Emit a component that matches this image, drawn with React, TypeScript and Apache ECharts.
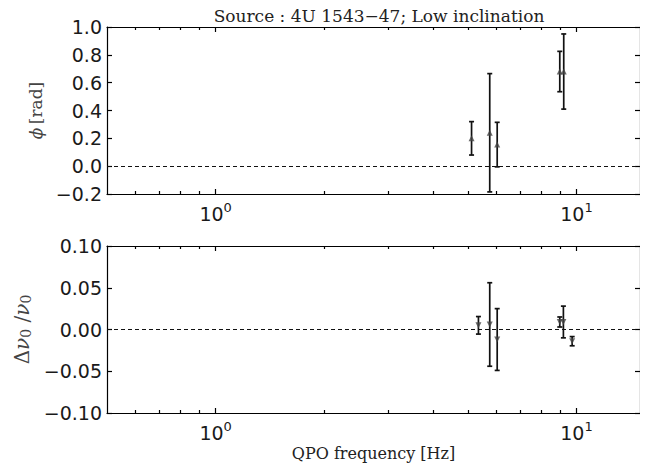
import React, { useEffect, useRef } from "react";
import * as echarts from "echarts";

// Top panel: phase lag phi [rad]
const phiFreq = [5.12, 5.75, 6.03, 8.99, 9.22];
const phiVal = [0.2, 0.24, 0.155, 0.68, 0.68];
const phiErr = [0.12, 0.425, 0.16, 0.145, 0.27];

// Bottom panel: relative frequency shift
const dnuFreq = [5.35, 5.75, 6.03, 8.99, 9.2, 9.73];
const dnuVal = [0.005, 0.006, -0.012, 0.009, 0.009, -0.014];
const dnuErr = [0.0105, 0.05, 0.037, 0.006, 0.019, 0.0055];

const xMajorTicks = [1, 10];
const xMinorTicks = [0.6, 0.7, 0.8, 0.9, 2, 3, 4, 5, 6, 7, 8, 9];
const X_MIN = 0.5;
const X_MAX = 15;

const lg = (v: number) => Math.log10(v);
const SERIF = "'DejaVu Serif', 'Liberation Serif', serif";
const SANS = "'DejaVu Sans', sans-serif";

export default function App() {
  const ref = useRef<HTMLDivElement>(null);
  useEffect(() => {
    if (!ref.current) return;
    const chart = echarts.init(ref.current, null, { renderer: "svg" });

    const grids = [
      { left: 107, right: 8, top: 27, height: 167 },
      { left: 107, right: 8, top: 246, height: 167 },
    ];

    const xAxes: any[] = [];
    const yAxes: any[] = [];
    const fmtMinus = (s: string) => s.replace("-", "\u2212");

    grids.forEach((_, g) => {
      const base = {
        type: "value",
        gridIndex: g,
        min: lg(X_MIN),
        max: lg(X_MAX),
        splitLine: { show: false },
      };
      // bottom major (with labels)
      xAxes.push({
        ...base,
        position: "bottom",
        axisLine: { show: true, onZero: false, lineStyle: { color: "#000", width: 1.2 } },
        axisTick: {
          show: true,
          inside: true,
          length: 5,
          customValues: xMajorTicks.map(lg),
          lineStyle: { color: "#000", width: 1.2 },
        },
        axisLabel: {
          show: true,
          customValues: xMajorTicks.map(lg),
          margin: 7,
          formatter: (v: number) => `{b|10}{s|${Math.round(v)}}`,
          rich: {
            b: { fontFamily: SANS, fontSize: 19, color: "#1a1a1a" },
            s: { fontFamily: SANS, fontSize: 13, color: "#1a1a1a", padding: [0, 0, 12, 0] },
          },
        },
        ...(g === 1
          ? {
              name: "QPO frequency [Hz]",
              nameLocation: "middle",
              nameGap: 32,
              nameTextStyle: { fontFamily: SERIF, fontSize: 16, color: "#222" },
            }
          : {}),
      });
      // bottom minor
      xAxes.push({
        ...base,
        position: "bottom",
        axisLine: { show: false, onZero: false },
        axisTick: {
          show: true,
          inside: true,
          length: 3,
          customValues: xMinorTicks.map(lg),
          lineStyle: { color: "#000", width: 1.2 },
        },
        axisLabel: { show: false },
      });
      // top major
      xAxes.push({
        ...base,
        position: "top",
        axisLine: { show: true, onZero: false, lineStyle: { color: "#000", width: 1.2 } },
        axisTick: {
          show: true,
          inside: true,
          length: 5,
          customValues: xMajorTicks.map(lg),
          lineStyle: { color: "#000", width: 1.2 },
        },
        axisLabel: { show: false },
      });
      // top minor
      xAxes.push({
        ...base,
        position: "top",
        axisLine: { show: false, onZero: false },
        axisTick: {
          show: true,
          inside: true,
          length: 3,
          customValues: xMinorTicks.map(lg),
          lineStyle: { color: "#000", width: 1.2 },
        },
        axisLabel: { show: false },
      });

      const yb =
        g === 0
          ? { min: -0.2, max: 1.0, interval: 0.2, dec: 1 }
          : { min: -0.1, max: 0.1, interval: 0.05, dec: 2 };
      yAxes.push({
        type: "value",
        gridIndex: g,
        position: "left",
        min: yb.min,
        max: yb.max,
        interval: yb.interval,
        splitLine: { show: false },
        axisLine: { show: true, onZero: false, lineStyle: { color: "#000", width: 1.2 } },
        axisTick: { show: true, inside: true, length: 5, lineStyle: { color: "#000", width: 1.2 } },
        axisLabel: {
          show: true,
          margin: 5,
          fontFamily: SANS,
          fontSize: 19,
          color: "#1a1a1a",
          formatter: (v: number) => fmtMinus(v.toFixed(yb.dec)),
        },
        name:
          g === 0
            ? "{i|ϕ} {n|[rad]}"
            : "{n|Δ}{i|ν}{sub|0}{n| /}{i|ν}{sub|0}",
        nameLocation: "middle",
        nameRotate: 90,
        nameGap: g === 0 ? 55 : 69,
        nameTextStyle: {
          color: "#444",
          rich: {
            i: { fontFamily: SERIF, fontStyle: "italic", fontSize: g === 0 ? 17 : 20, color: "#444" },
            n: { fontFamily: SERIF, fontSize: g === 0 ? 17 : 20, color: "#444" },
            sub: { fontFamily: SERIF, fontSize: 14, color: "#444", padding: [8, 0, 0, 0] },
          },
        },
      });
      yAxes.push({
        type: "value",
        gridIndex: g,
        position: "right",
        min: yb.min,
        max: yb.max,
        interval: yb.interval,
        splitLine: { show: false },
        axisLine: { show: true, onZero: false, lineStyle: { color: "#000", width: 1.2 } },
        axisTick: { show: true, inside: true, length: 5, lineStyle: { color: "#000", width: 1.2 } },
        axisLabel: { show: false },
      });
    });

    const errRender = (params: any, api: any) => {
      const x = api.value(0);
      const v = api.value(1);
      const e = api.value(2);
      const top = api.coord([x, v + e]);
      const bot = api.coord([x, v - e]);
      const cw = 2.5;
      const st = { stroke: "#111", lineWidth: 1.7 };
      return {
        type: "group",
        children: [
          { type: "line", shape: { x1: top[0], y1: top[1], x2: bot[0], y2: bot[1] }, style: st },
          { type: "line", shape: { x1: top[0] - cw, y1: top[1], x2: top[0] + cw, y2: top[1] }, style: st },
          { type: "line", shape: { x1: bot[0] - cw, y1: bot[1], x2: bot[0] + cw, y2: bot[1] }, style: st },
        ],
      };
    };

    const zeroLine = {
      silent: true,
      symbol: "none",
      animation: false,
      label: { show: false },
      lineStyle: { type: [4, 3], color: "#111", width: 1 },
      data: [{ yAxis: 0 }],
    };

    const series: any[] = [
      {
        type: "custom",
        xAxisIndex: 0,
        yAxisIndex: 0,
        renderItem: errRender,
        data: phiFreq.map((f, i) => [lg(f), phiVal[i], phiErr[i]]),
        z: 5,
      },
      {
        type: "scatter",
        xAxisIndex: 0,
        yAxisIndex: 0,
        symbol: "triangle",
        symbolSize: 6,
        itemStyle: { color: "#444" },
        data: phiFreq.map((f, i) => [lg(f), phiVal[i]]),
        markLine: zeroLine,
        z: 6,
      },
      {
        type: "custom",
        xAxisIndex: 4,
        yAxisIndex: 2,
        renderItem: errRender,
        data: dnuFreq.map((f, i) => [lg(f), dnuVal[i], dnuErr[i]]),
        z: 5,
      },
      {
        type: "scatter",
        xAxisIndex: 4,
        yAxisIndex: 2,
        symbol: "triangle",
        symbolRotate: 180,
        symbolSize: 6,
        itemStyle: { color: "#444" },
        data: dnuFreq.map((f, i) => [lg(f), dnuVal[i]]),
        markLine: zeroLine,
        z: 6,
      },
    ];

    chart.setOption({
      animation: false,
      backgroundColor: "#fff",
      title: {
        text: "Source : 4U 1543\u221247; Low inclination",
        left: 374,
        top: 2,
        textAlign: "center",
        textStyle: { fontFamily: SERIF, fontSize: 17, fontWeight: "normal", color: "#222" },
      },
      grid: grids,
      xAxis: xAxes,
      yAxis: yAxes,
      series,
    });

    return () => chart.dispose();
  }, []);

  return <div ref={ref} style={{ width: 648, height: 471, margin: -8 }} />;
}
